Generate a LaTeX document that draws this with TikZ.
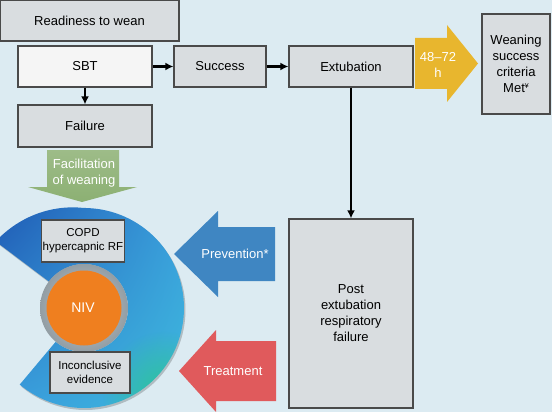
\documentclass[tikz,border=0pt]{standalone}
\usepackage{fontspec}
\setmainfont{Liberation Sans}
\usetikzlibrary{arrows.meta,shadows,calc,shadings,fadings}
\definecolor{bg}{HTML}{DCEBF2}
\definecolor{boxfill}{HTML}{D9DDE0}
\definecolor{boxline}{HTML}{4A4A4A}
\definecolor{sbtfill}{HTML}{F5F5F5}
\definecolor{gold}{HTML}{E8B62E}
\definecolor{leafgreen}{HTML}{8CB073}
\definecolor{prevblue}{HTML}{3F86C2}
\definecolor{treatred}{HTML}{E05A5C}
\definecolor{nivorange}{HTML}{EF7F1F}
\definecolor{ringgray}{HTML}{A3AFB6}
\definecolor{ringUL}{HTML}{1F5AB4}
\definecolor{ringUR}{HTML}{3A9EDC}
\definecolor{ringLL}{HTML}{3A9CDD}
\definecolor{ringLR}{HTML}{3DB9DC}
\definecolor{ringteal}{HTML}{2EC39A}
\tikzfading[name=softspot, inner color=transparent!0, outer color=transparent!100]
\tikzset{
  box/.style={draw=boxline, line width=1.3pt, fill=boxfill, align=center, inner sep=1pt, text=black,
    drop shadow={shadow xshift=1.2pt, shadow yshift=-1.2pt, opacity=0.25}},
  smallbox/.style={box, font=\fontsize{11.5}{14}\selectfont},
  conn/.style={line width=2.2pt, -{Latex[length=8pt,width=8pt]}},
  wtext/.style={text=white, align=center, inner sep=0pt},
}
\newcommand{\ringshape}{plot[domain=230:503, samples=100] ({\x}:{(100+0.2*max(0,\x-450))*1pt})
    -- (143:44pt) arc[start angle=143, end angle=-130, radius=44pt] -- cycle}
\begin{document}
\begin{tikzpicture}[x=1pt, y=-1pt, font=\fontsize{13}{16}\selectfont]
\fill[bg] (0,0) rectangle (552,412);
\useasboundingbox (0,0) rectangle (552,412);
\clip (0,0) rectangle (552,412);

% ring (C shape)
\begin{scope}[shift={(84,308)}]
  \fill[black, opacity=0.2, shift={(1.5pt,-2pt)}] \ringshape;
  \shade[upper left=ringUL, upper right=ringUR, lower left=ringLL, lower right=ringLR] \ringshape;
  \begin{scope}
    \clip \ringshape;
    \fill[ringteal, path fading=softspot] (80pt,-85pt) circle[radius=62pt];
  \end{scope}
  \shade[inner color=ringgray!60!white, outer color=ringgray!90!black] (0,0) circle[radius=44pt];
  \fill[nivorange] (0,0) circle[radius=37.5pt];
\end{scope}
\node[wtext, font=\fontsize{14}{16}\selectfont] (niv) at (83,308) {NIV};

% boxes
\node[box, minimum width=179pt, minimum height=41pt] (ready) at (89.5,20.5) {Readiness to wean};
\node[box, fill=sbtfill, minimum width=134pt, minimum height=41pt] (sbt) at (85,66.5) {SBT};
\node[box, minimum width=92pt, minimum height=41pt] (success) at (220,66.5) {Success};
\node[box, minimum width=124pt, minimum height=41pt] (extub) at (351,66.5) {Extubation};
\node[box, minimum width=134pt, minimum height=42pt] (failure) at (85,126) {Failure};
\node[box, minimum width=68pt, minimum height=100pt] (wean) at (516,64)
  {Weaning\\success\\criteria\\Met\raisebox{4pt}{\fontsize{7}{7}\selectfont ¥}};
\node[box, minimum width=124pt, minimum height=189pt] (post) at (351,313.5)
  {Post\\extubation\\respiratory\\failure};
\node[smallbox, minimum width=82pt, minimum height=42pt] (copd) at (83,241) {COPD\\hypercapnic RF};
\node[smallbox, minimum width=80pt, minimum height=41pt] (incon) at (90,372.5) {Inconclusive\\evidence};

% connectors
\draw[conn] (sbt) -- (success);
\draw[conn] (success) -- (extub);
\draw[conn] (sbt) -- (failure);
\draw[conn] (extub) -- (post);

% big arrows
\fill[gold] (415,38) -- (447,38) -- (447,25) -- (478,63.5) -- (447,102) -- (447,89) -- (415,89) -- cycle;
\node[wtext] (hrs) at (438,65) {48–72\\h};

\shade[top color=leafgreen!85!white, bottom color=leafgreen]
  (47,150) -- (119,150) -- (119,187) -- (137,187) -- (82,202) -- (28,187) -- (47,187) -- cycle;
\node[wtext] (facil) at (84,173) {Facilitation\\of weaning};

\fill[prevblue] (174,254) -- (218,211) -- (218,227) -- (275,227) -- (275,281) -- (218,281) -- (218,297) -- cycle;
\node[wtext] (prev) at (235,254) {Prevention*};

\fill[treatred] (179,371) -- (216,330) -- (216,341) -- (276,341) -- (276,401) -- (216,401) -- (216,412) -- cycle;
\node[wtext] (treat) at (233,371) {Treatment};
\end{tikzpicture}
\end{document}
